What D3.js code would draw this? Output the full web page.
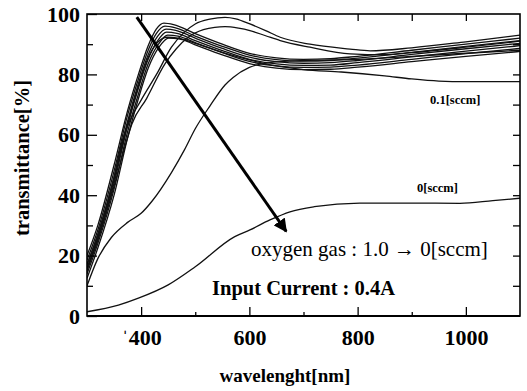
<!DOCTYPE html>
<html>
<head>
<meta charset="utf-8">
<script src="https://cdn.jsdelivr.net/npm/d3@7"></script>
<style>
  body { margin:0; background:#fff; }
  svg { display:block; }
  text { font-family:"Liberation Serif","DejaVu Serif",serif; fill:#000; }
</style>
</head>
<body>
<script>
// x tick labels, y tick labels
var xTicks = [400, 600, 800, 1000];
var xTickLabels = ["\u02C8400", "600", "800", "1000"];
var yTicks = [0, 20, 40, 60, 80, 100];

// six curves of the main bundle (peak near 440-450 nm)
var bundle0 = [[300,20],[320,30],[350,50],[375,68],[395,80],[413,89.5],[428,95],[442,97],[460,96.5],[500,93.5],[550,90],[600,87],[650,85.5],[700,85],[750,85.2],[800,86],[900,88],[1000,90],[1100,92]];
var bundle1 = [[300,18.5],[320,28.5],[350,48],[375,66.5],[395,78.5],[413,88],[428,93.5],[444,96],[462,95.5],[500,92.7],[550,89.3],[600,86.4],[650,84.9],[700,84.4],[750,84.6],[800,85.4],[900,87.3],[1000,89.3],[1100,91.2]];
var bundle2 = [[300,17],[320,27],[350,46],[375,64.5],[395,77],[413,86.5],[430,92.5],[446,95],[464,94.6],[500,92],[550,88.6],[600,85.7],[650,84.2],[700,83.7],[750,83.9],[800,84.6],[900,86.6],[1000,88.5],[1100,90.3]];
var bundle3 = [[300,15.5],[320,25.5],[350,44],[375,63],[395,75.5],[413,85],[430,91],[447,94],[466,93.6],[500,91.2],[550,87.9],[600,85],[650,83.5],[700,83],[750,83.1],[800,83.9],[900,85.8],[1000,87.7],[1100,89.5]];
var bundle4 = [[300,14],[320,24],[350,42],[375,61],[395,73.5],[413,83.5],[432,90],[449,93],[468,92.7],[500,90.5],[550,87.2],[600,84.3],[650,82.8],[700,82.3],[750,82.4],[800,83.1],[900,85],[1000,86.9],[1100,88.6]];
var bundle5 = [[300,12.5],[320,22.5],[350,40],[375,59],[395,72],[413,82],[433,89],[451,92],[470,91.8],[500,89.8],[550,86.5],[600,83.6],[650,82.1],[700,81.6],[750,81.7],[800,82.4],[900,84.2],[1000,86],[1100,87.6]];
// bundle curve that drops to ~77 at the long end (0.1 sccm)
var sccm01 = [[300,16],[320,26],[350,45],[375,63.5],[395,76],[413,85.5],[430,90.5],[448,92.3],[468,92],[500,90.3],[550,87.3],[600,84.8],[650,82.8],[700,81.6],[770,80.8],[850,79.5],[900,78.5],[950,77.8],[1000,77.6],[1100,77.6]];
// two curves peaking near 540-560 nm
var peakA = [[300,17],[320,27],[350,46],[365,58],[380,65],[400,71.5],[430,80.5],[456,89],[480,94],[500,96.7],[527,98.3],[555,98.9],[575,98.4],[601,96.7],[630,94.5],[657,92.3],[712,90],[786,88.4],[823,87.8],[900,88.8],[1000,90.8],[1100,93]];
var peakB = [[300,15],[320,25],[350,43],[370,56],[383,63.6],[410,72],[444,83.5],[465,88.5],[487,92.3],[515,94.8],[536,95.6],[555,95.8],[580,95.3],[601,94.5],[630,92.8],[657,91.2],[712,89],[786,86.8],[850,86.5],[900,87.2],[1000,89],[1100,91]];
// curve with the shoulder near 400 nm
var shoulder = [[300,10],[320,19],[345,26],[375,31],[400,34],[420,38],[456,47.5],[480,55],[500,62],[527,69.5],[555,76.5],[570,79],[600,82.3],[640,84],[700,84.6],[800,85],[900,86],[1000,87],[1100,88]];
// 0 sccm
var sccm0 = [[300,1.4],[358,3.6],[395,5.9],[450,10.3],[500,16.3],[573,26.3],[601,28.5],[638,31.8],[675,34.5],[720,36.2],[804,37.4],[900,37.4],[989,37.3],[1050,38.2],[1100,39]];

var curves = [bundle0,bundle1,bundle2,bundle3,bundle4,bundle5,sccm01,peakA,peakB,shoulder,sccm0];

var W = 527, H = 391;
var mLeft = 87, mRight = 520, mTop = 14, mBottom = 316;

var svg = d3.select('body').append('svg').attr('width',W).attr('height',H);

var x = d3.scaleLinear().domain([300,1100]).range([mLeft,mRight]);
var y = d3.scaleLinear().domain([0,100]).range([mBottom,mTop]);

var defs = svg.append('defs');
defs.append('clipPath').attr('id','clip').append('rect')
    .attr('x',mLeft).attr('y',mTop).attr('width',mRight-mLeft).attr('height',mBottom-mTop);

var line = d3.line().x(function(d){return x(d[0]);}).y(function(d){return y(d[1]);})
    .curve(d3.curveMonotoneX);

svg.append('g').attr('clip-path','url(#clip)').selectAll('path').data(curves).enter()
    .append('path').attr('d',line).attr('fill','none')
    .attr('stroke','#111').attr('stroke-width',1.3);

// axes, ticks pointing inward
function styleAxis(g){
    g.select('.domain').remove();
    g.selectAll('line').attr('stroke','#000').attr('stroke-width',1.3);
    g.selectAll('text').style('font-size','22px').style('font-weight','bold')
        .style('font-family','"Liberation Serif",serif');
}
svg.append('g').attr('transform','translate('+mLeft+',0)')
    .call(d3.axisLeft(y).tickValues(yTicks).tickSize(-10).tickPadding(7).tickFormat(d3.format('d')))
    .call(styleAxis);
svg.append('g').attr('transform','translate('+mLeft+',0)')
    .call(d3.axisLeft(y).tickValues([10,30,50,70,90]).tickSize(-6).tickFormat(''))
    .call(styleAxis);
svg.append('g').attr('transform','translate('+mRight+',0)')
    .call(d3.axisRight(y).tickValues(d3.range(10,100,10)).tickSize(-7).tickFormat(''))
    .call(styleAxis);
svg.append('g').attr('transform','translate(0,'+mBottom+')')
    .call(d3.axisBottom(x).tickValues(xTicks).tickSize(-9).tickPadding(13)
        .tickFormat(function(d,i){return xTickLabels[i];}))
    .call(styleAxis);
svg.append('g').attr('transform','translate(0,'+mBottom+')')
    .call(d3.axisBottom(x).tickValues([500,700,900]).tickSize(-4).tickFormat(''))
    .call(styleAxis);
svg.append('g').attr('transform','translate(0,'+mTop+')')
    .call(d3.axisTop(x).tickValues(d3.range(400,1100,100)).tickSize(-7).tickFormat(''))
    .call(styleAxis);

svg.append('rect').attr('x',mLeft).attr('y',mTop).attr('width',mRight-mLeft).attr('height',mBottom-mTop)
    .attr('fill','none').attr('stroke','#000').attr('stroke-width',1.6);
svg.append('line').attr('x1',mLeft).attr('x2',mRight).attr('y1',mBottom).attr('y2',mBottom)
    .attr('stroke','#000').attr('stroke-width',2.2);

// axis titles
svg.append('text').attr('x',285).attr('y',382).attr('text-anchor','middle')
    .style('font-size','19px').style('font-weight','bold').text('wavelenght[nm]');
svg.append('text').attr('transform','translate(29,158) rotate(-90)').attr('text-anchor','middle')
    .style('font-size','20.5px').style('font-weight','bold').text('transmittance[%]');

// arrow
defs.append('marker').attr('id','head').attr('viewBox','0 0 10 10').attr('refX',9).attr('refY',5)
    .attr('markerWidth',4.5).attr('markerHeight',4.5).attr('orient','auto')
    .append('path').attr('d','M0,0 L10,5 L0,10 Z').attr('fill','#000');
svg.append('line').attr('x1',x(392)).attr('y1',y(99)).attr('x2',x(668)).attr('y2',y(28))
    .attr('stroke','#000').attr('stroke-width',3).attr('marker-end','url(#head)');

// annotations
svg.append('text').attr('x',430).attr('y',104).style('font-size','12.5px').style('font-weight','bold')
    .text('0.1[sccm]');
svg.append('text').attr('x',417).attr('y',192).style('font-size','12.5px').style('font-weight','bold')
    .text('0[sccm]');
svg.append('text').attr('x',251).attr('y',256).style('font-size','21px')
    .text('oxygen gas : 1.0 \u2192 0[sccm]');
svg.append('text').attr('x',212).attr('y',295).style('font-size','20.5px').style('font-weight','bold')
    .text('Input Current : 0.4A');
</script>
</body>
</html>
